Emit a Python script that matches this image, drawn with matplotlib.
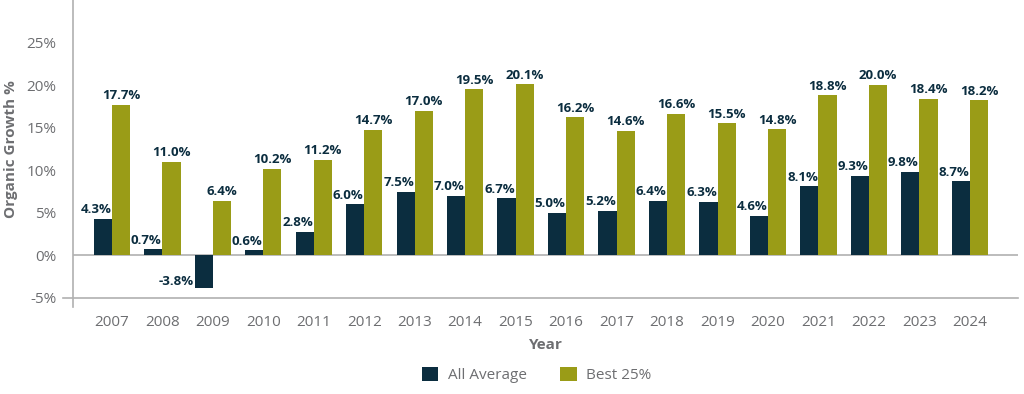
import numpy as np
import matplotlib.pyplot as plt

years = ['2007', '2008', '2009', '2010', '2011', '2012', '2013', '2014', '2015',
         '2016', '2017', '2018', '2019', '2020', '2021', '2022', '2023', '2024']
all_avg = [4.3, 0.7, -3.8, 0.6, 2.8, 6.0, 7.5, 7.0, 6.7, 5.0, 5.2, 6.4, 6.3, 4.6, 8.1, 9.3, 9.8, 8.7]
best25 = [17.7, 11.0, 6.4, 10.2, 11.2, 14.7, 17.0, 19.5, 20.1, 16.2, 14.6, 16.6, 15.5, 14.8, 18.8, 20.0, 18.4, 18.2]

navy = '#0b2d3f'
olive = '#9a9c17'
grey = '#6d6e71'

plt.rcParams['font.family'] = ['Open Sans', 'DejaVu Sans']

fig = plt.figure(figsize=(10.24, 3.94), dpi=100)
ax = fig.add_axes([0.0713, 0.2437, 0.9227, 0.7563])

x = np.arange(len(years))
w = 0.36
ax.bar(x - w / 2, all_avg, w, color=navy, label='All Average')
ax.bar(x + w / 2, best25, w, color=olive, label='Best 25%')

for xi, v in zip(x, all_avg):
    if v < 0:
        ax.annotate(f'{v:.1f}%', (xi - w, v), xytext=(-1, 0), textcoords='offset points',
                    ha='right', va='bottom', fontsize=9.5, fontweight='bold', color=navy)
    else:
        ax.annotate(f'{v:.1f}%', (xi - w / 2, v), xytext=(-5, 2), textcoords='offset points',
                    ha='center', va='bottom', fontsize=9.5, fontweight='bold', color=navy)
for xi, v in zip(x, best25):
    ax.annotate(f'{v:.1f}%', (xi + w / 2, v), xytext=(0, 2), textcoords='offset points',
                ha='center', va='bottom', fontsize=9.5, fontweight='bold', color=navy)

xmin, xmax = -0.77, 17.95
ax.set_xlim(xmin, xmax)
ax.set_ylim(-5, 30)
ax.axhline(0, color='#b0b0b0', lw=1.2, zorder=0)

for s in ax.spines.values():
    s.set_visible(False)
ax.plot([xmin - 0.2, xmax], [-5, -5], color='#b0b0b0', lw=1.2, clip_on=False)
ax.plot([xmin, xmin], [-6.1, 30], color='#b0b0b0', lw=1.2, clip_on=False)

ax.set_yticks([-5, 0, 5, 10, 15, 20, 25])
ax.set_yticklabels([f'{t}%' for t in [-5, 0, 5, 10, 15, 20, 25]])
ax.set_xticks(x)
ax.set_xticklabels(years)
ax.tick_params(length=0, labelsize=11, colors=grey)
ax.tick_params(axis='x', pad=12)
ax.tick_params(axis='y', pad=12)

ax.set_ylabel('Organic Growth %', fontsize=11, fontweight='bold', color=grey, labelpad=6)
ax.set_xlabel('Year', fontsize=11, fontweight='bold', color=grey, labelpad=6)

fig.legend(loc='center', bbox_to_anchor=(0.524, 0.048), ncol=2, frameon=False,
           fontsize=11, labelcolor=grey, handlelength=1.1, handleheight=1.1,
           columnspacing=2.2, handletextpad=0.6)

fig.savefig('out.png', dpi=100)
